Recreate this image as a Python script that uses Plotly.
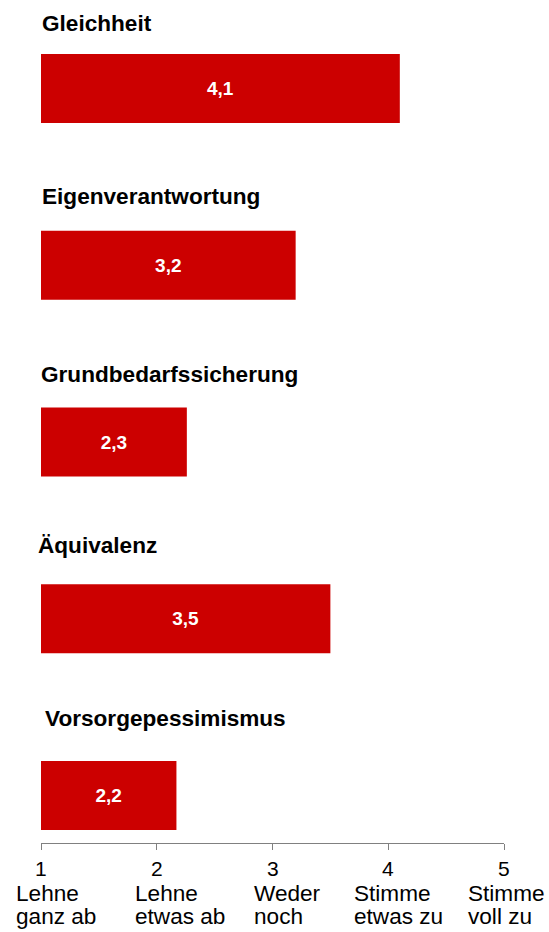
import plotly.graph_objects as go

# ---- data ----
categories = ["Gleichheit", "Eigenverantwortung", "Grundbedarfssicherung", "Äquivalenz", "Vorsorgepessimismus"]
values = [4.1, 3.2, 2.26, 3.5, 2.17]
value_labels = ["4,1", "3,2", "2,3", "3,5", "2,2"]
tick_values = [1, 2, 3, 4, 5]
tick_numbers = ["1", "2", "3", "4", "5"]
tick_line1 = ["Lehne", "Lehne", "Weder", "Stimme", "Stimme"]
tick_line2 = ["ganz ab", "etwas ab", "noch", "etwas zu", "voll zu"]

# ---- styles ----
FONT = "Liberation Sans, Arial, sans-serif"
RED = "#CC0000"
positions = list(range(len(categories) - 1, -1, -1))  # top to bottom
title_xshift = [-1, -1, -2, -5, 2]
title_yshift = [65, 68.5, 68, 73, 77]
desc_xshift = [-26.7, -24, -20.7, -36.6, -38.3]

fig = go.Figure()
fig.add_trace(go.Bar(
    y=positions,
    x=[v - 1 for v in values],
    base=1,
    orientation="h",
    width=0.39,
    marker=dict(color=RED, line=dict(width=0)),
    text=value_labels,
    textposition="inside",
    insidetextanchor="middle",
    textangle=0,
    constraintext="none",
    textfont=dict(family=FONT, size=19, color="white", weight="bold"),
    hoverinfo="skip",
))

annotations = []
for cat, pos, xs, ys in zip(categories, positions, title_xshift, title_yshift):
    annotations.append(dict(
        x=1, y=pos, xref="x", yref="y", text=f"<b>{cat}</b>",
        xanchor="left", yanchor="middle", xshift=xs, yshift=ys,
        showarrow=False, font=dict(family=FONT, size=22.6, color="black"),
    ))
for tv, num, l1, l2, xs in zip(tick_values, tick_numbers, tick_line1, tick_line2, desc_xshift):
    annotations.append(dict(
        x=tv, y=0, xref="x", yref="paper", text=num,
        xanchor="center", yanchor="middle", yshift=-25.4,
        showarrow=False, font=dict(family=FONT, size=21, color="black"),
    ))
    annotations.append(dict(
        x=tv, y=0, xref="x", yref="paper", text=l1,
        xanchor="left", yanchor="middle", xshift=xs, yshift=-50.4,
        showarrow=False, font=dict(family=FONT, size=22.6, color="black"),
    ))
    annotations.append(dict(
        x=tv, y=0, xref="x", yref="paper", text=l2,
        xanchor="left", yanchor="middle", xshift=xs, yshift=-73.7,
        showarrow=False, font=dict(family=FONT, size=22.6, color="black"),
    ))

fig.update_layout(
    width=549, height=932,
    margin=dict(l=41, r=45, t=0, b=89),
    plot_bgcolor="white", paper_bgcolor="white",
    showlegend=False,
    annotations=annotations,
    xaxis=dict(
        range=[1, 5], tickvals=tick_values, showticklabels=False,
        showgrid=False, zeroline=False, showline=True, linecolor="#808080", linewidth=1,
        ticks="outside", ticklen=6, tickcolor="#808080", tickwidth=1,
        fixedrange=True,
    ),
    yaxis=dict(
        range=[-0.2687, 4.5007], showgrid=False, zeroline=False, showline=False,
        showticklabels=False, ticks="", fixedrange=True,
    ),
)

fig.write_html(
    "out.html",
    config={"displayModeBar": False},
    default_width="549px",
    default_height="932px",
    post_script="document.body.style.margin='0';document.body.style.overflow='hidden';",
)
